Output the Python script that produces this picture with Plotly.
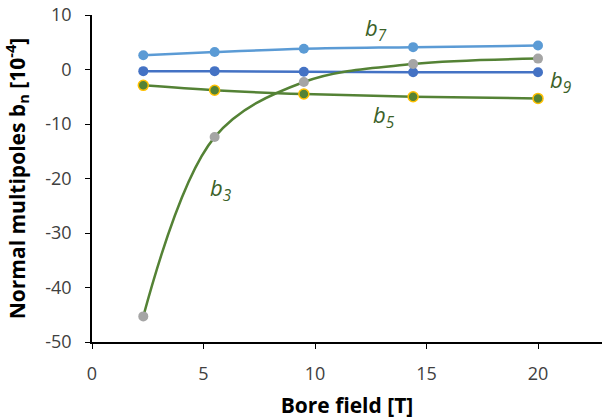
import plotly.graph_objects as go

field = [2.3, 5.5, 9.5, 14.4, 20.0]
b3 = [-45.3, -12.4, -2.3, 1.0, 2.0]
b5 = [-2.9, -3.8, -4.5, -5.0, -5.3]
b7 = [2.6, 3.2, 3.8, 4.1, 4.4]
b9 = [-0.3, -0.3, -0.4, -0.5, -0.5]

x_ticks = [0, 5, 10, 15, 20]
y_ticks = [10, 0, -10, -20, -30, -40, -50]

labels = ["b<sub>3</sub>", "b<sub>5</sub>", "b<sub>7</sub>", "b<sub>9</sub>"]
label_x = [5.8, 13.1, 12.75, 21.05]
label_y = [-22.0, -8.6, 7.4, -2.2]

FONT = "Open Sans, Lato"
GREEN = "#548235"
fig = go.Figure()
fig.add_trace(go.Scatter(x=field, y=b7, mode="lines+markers", line=dict(color="#5B9BD5", width=2.5, shape="spline"),
                         marker=dict(color="#5B9BD5", size=10)))
fig.add_trace(go.Scatter(x=field, y=b9, mode="lines+markers", line=dict(color="#4472C4", width=2.5, shape="spline"),
                         marker=dict(color="#4472C4", size=10)))
fig.add_trace(go.Scatter(x=field, y=b5, mode="lines+markers", line=dict(color=GREEN, width=2.5, shape="spline"),
                         marker=dict(color=GREEN, size=10, line=dict(color="#FFC000", width=1.5))))
fig.add_trace(go.Scatter(x=field, y=b3, mode="lines+markers", line=dict(color=GREEN, width=2.5, shape="spline"),
                         marker=dict(color="#A5A5A5", size=10)))

for t, xx, yy in zip(labels, label_x, label_y):
    fig.add_annotation(x=xx, y=yy, text="<i>" + t + "</i>", showarrow=False,
                       font=dict(family=FONT, size=22, color="#3B6128"))

fig.update_layout(
    width=602, height=419,
    margin=dict(l=92, r=0, t=15, b=77),
    paper_bgcolor="white", plot_bgcolor="white",
    showlegend=False,
    font=dict(family=FONT, color="#262626"),
)
fig.update_xaxes(range=[0, 22.87], tickvals=x_ticks, ticktext=[str(v) for v in x_ticks],
                 showgrid=False, zeroline=False, automargin=False,
                 showline=True, linecolor="black", linewidth=1.5, ticks="outside", ticklen=5,
                 tickcolor="black", tickfont=dict(size=18, color="#404040"), ticklabelstandoff=10,
                 title=dict(text="<b>Bore field [T]</b>", font=dict(size=21, color="black"), standoff=19))
fig.update_yaxes(range=[-50, 10], tickvals=y_ticks, ticktext=[str(v) for v in y_ticks],
                 showgrid=False, zeroline=False, automargin=False,
                 showline=True, linecolor="black", linewidth=1.5, ticks="outside", ticklen=5,
                 tickcolor="black", tickfont=dict(size=18, color="#404040"), ticklabelstandoff=10,
                 title=dict(text="<b>Normal multipoles b<sub>n</sub> [10<sup>-4</sup>]</b>",
                            font=dict(size=21, color="black"), standoff=14))

fig.write_html("out.html", config={"displayModeBar": False},
               post_script="document.body.style.margin='0';")
